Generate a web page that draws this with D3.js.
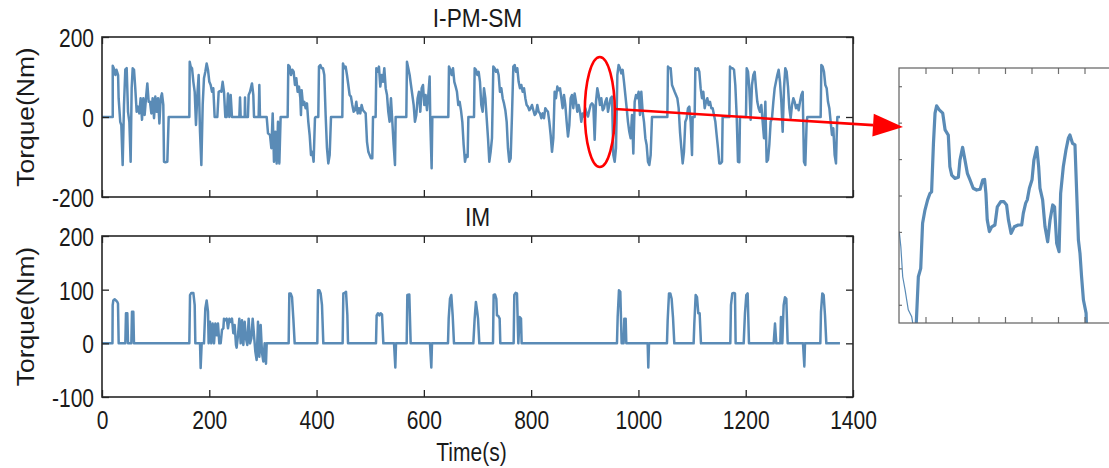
<!DOCTYPE html>
<html>
<head>
<meta charset="utf-8">
<script src="https://cdn.jsdelivr.net/npm/d3@7"></script>
<style>
  body { margin: 0; background: #ffffff; }
  svg text { font-family: "Liberation Sans", Arial, Helvetica, sans-serif; fill: #1a1a1a; }
</style>
</head>
<body>
<svg id="chart" width="1109" height="468"></svg>
<script>
// ---- data -------------------------------------------------------------
const timeTicks = [0, 200, 400, 600, 800, 1000, 1200, 1400];
const ipmsmTorqueTicks = [-200, 0, 200];
const imTorqueTicks = [-100, 0, 100, 200];

// I-PM-SM torque over the drive cycle: [time (s), torque (Nm)]
const ipmsmTorque = [
  [0,0],[20,0],[20,128],[22,122],[25,105],[27,118],[30,105],[31,47],[34,-12],[36,-20],[38.5,-120],[41,30],[43.5,119],[46,122],[48.5,13],[51,-12],[53.4,-112],[55.3,72],[57.2,122],[59.7,118],[62,72],[64.6,13],[67,26],[69.6,9],[72,47],[74.6,-7],[77,47],[79.5,5],[82,47],[84.5,84],[87,38],[89.5,38],[92,9],[94.4,47],[97,-3],[99.4,51],[102,13],[104.4,47],[107,-16],[109.4,47],[111.8,59],[114.3,30],[115.6,-112],[118,-113],[121.8,-112],[124.3,0],
  [162.8,0],[163.5,138],[165.3,126],[167.8,122],[170.3,88],[172.8,63],[175.2,-20],[177.7,55],[180.2,105],[182.7,-37],[185.2,-120],[187.7,30],[190.1,97],[192.6,113],[195.1,134],[197.6,118],[200.1,88],[202.6,80],[205.1,63],[207.5,72],[210,0],[215,0],[217.5,63],[220,65],[222.5,63],[224.9,88],[227.4,63],[229.9,0],[232.4,0],[234.9,59],[237.4,0],[239.9,55],[242.3,0],[256,0],[257.3,49],[258.5,0],[266,0],[266.6,49],[267.2,0],[272,0],[273.4,55],[275.9,63],[279.6,84],[282.1,55],[283.4,0],[292,0],[293.3,80],[294.5,0],[307,0],[309.5,-41],[313.2,-45],[315.7,-78],[318.2,9],[320.6,-112],[323.1,-37],[325.6,-116],[328.1,-12],[330.6,-116],[333,0],
  [346.1,0],[347.3,130],[349.8,126],[352.3,105],[354.8,118],[357.3,113],[359.7,80],[362.2,97],[364.7,63],[367.2,76],[369.7,47],[370.9,5],[372.2,67],[374.7,30],[377.1,38],[379.6,22],[382.1,34],[384.6,-12],[387.1,-45],[389.6,-95],[392.1,-87],[394.5,-112],[397,-3],[398.3,0],[403.2,0],[404.5,126],[407,130],[409.5,122],[412,122],[414.4,105],[416.9,5],[419.4,-78],[421.9,-116],[424.4,-95],[426.9,0],
  [448,0],[449.2,134],[451.7,122],[454.2,126],[456.7,105],[459.2,80],[461.6,55],[464.1,51],[466.6,30],[469.1,13],[471.6,17],[474.1,38],[476.6,9],[479,22],[481.5,9],[484,30],[486.5,17],[489,13],[491.5,9],[494,-62],[496.5,-87],[498.9,-95],[501.4,-103],[503.9,-103],[505.2,0],[510.1,0],[511.4,122],[513.9,113],[516.3,126],[518.8,76],[521.3,105],[523.8,88],[526.3,122],[528.8,72],[531.3,55],[533.7,13],[536.2,-12],[538.7,47],[541.2,-12],[543.7,-70],[546.2,-120],[547.4,0],
  [567.3,0],[568.5,138],[571,122],[573.5,105],[576,80],[578.5,55],[581,30],[583.4,-12],[585.9,5],[588.4,47],[590.9,63],[593.4,13],[595.9,72],[598.4,80],[600.8,30],[603.3,55],[605.8,17],[608.3,55],[610.8,101],[612,-12],[614.5,-128],[615.8,0],
  [645.6,0],[646.8,126],[649.3,118],[651.8,105],[654.3,122],[656.8,88],[659.3,76],[661.7,63],[664.2,30],[666.7,38],[669.2,17],[671.7,-12],[674.2,-70],[676.7,-112],[679.1,-95],[681.6,-100],[683,0],
  [693.5,0],[694.7,122],[697.2,118],[699.7,105],[702.2,113],[704.6,88],[707.1,30],[709.6,13],[712.1,72],[714.6,47],[717.1,-3],[719.6,-53],[722,-112],[724.5,-87],[727,-53],[729.5,126],[732,122],[734.5,113],[737,118],[739.4,105],[741.9,63],[744.4,72],[746.9,47],[749.4,34],[751.9,17],[754.4,-12],[756.8,-78],[759.3,-112],[761.8,-103],[764.3,5],[766.8,126],[769.3,130],[771.8,113],[774.2,122],[776.7,88],[779.2,72],[781.7,80],[784.2,63],[786.7,72],[789.2,47],[791.6,30],[794.1,26],[796.6,17],[799.1,22],[801.6,30],[804.1,17],[806.6,5],[809,9],[811.5,30],[814,13],[816.5,9],[819,-3],[821.5,9],[824,-3],[826.4,22],[828.9,17],[831.4,13],[833.9,-12],[836.4,-45],[838.9,-87],[841.4,-53],[843.8,63],[846.3,47],[848.8,76],[851.3,67],[853.8,72],[856.3,47],[858.7,22],[861.2,55],[863.7,30],[866.2,-12],[868.7,-49],[871.2,-20],[873.7,47],[876.1,55],[878.6,22],[881.1,59],[883.6,38],[886.1,13],[888.6,30],[891.1,13],[893.5,-12],[896,9],[898.5,1],[901,22],[903.5,9],[906,1],[908.5,17],[910.9,30],[913.4,34],[915.9,30],[918.4,-57],[920.9,38],[923.4,72],[925.9,55],[928.3,30],[930.8,47],[933.3,17],[935.8,22],[938.3,38],[940.8,47],[943.3,13],[945.7,30],[948.2,47],[950.7,51],[953.2,-95],[955.7,-112],[958.2,-78],[960.7,105],[963.1,130],[965.6,122],[968.1,109],[970.6,118],[973.1,88],[975.6,55],[978.1,22],[980.5,-12],[983,-37],[985.5,-53],[988,5],[990.5,-91],[993,38],[995.5,55],[997.9,47],[1000.4,63],[1002.9,5],[1005.4,63],[1007.9,13],[1010.4,-12],[1012.9,-53],[1015.3,-70],[1017.8,-112],[1020.3,-120],[1022.8,-95],[1025.3,0],
  [1053.9,0],[1055.1,126],[1057.6,122],[1060.1,122],[1062.6,80],[1065,72],[1067.5,63],[1070,55],[1072.5,47],[1075,22],[1077.5,-37],[1080,-78],[1082.5,-116],[1084.9,-87],[1087.4,-12],[1089.9,-3],[1092.4,22],[1094.9,26],[1097.4,-12],[1099.9,-95],[1101.1,0],[1104.8,0],[1106.1,122],[1108.6,118],[1111,122],[1113.5,113],[1116,72],[1118.5,47],[1121,63],[1123.5,22],[1126,38],[1128.4,47],[1130.9,30],[1133.4,38],[1135.9,22],[1138.4,22],[1140.9,5],[1143.4,-12],[1145.8,-45],[1148.3,-78],[1150.8,-116],[1153.3,-116],[1155.8,-112],[1157,0],
  [1169.5,0],[1170.7,126],[1173.2,122],[1175.7,122],[1178.2,118],[1180.6,80],[1183.1,5],[1185.6,-112],[1188.1,-113],[1189.3,0],[1200.5,0],[1201.8,122],[1204.3,113],[1206.7,72],[1209.2,-7],[1211.7,80],[1214.2,105],[1216.7,113],[1219.2,72],[1221.6,38],[1224.1,22],[1226.6,13],[1229.1,30],[1231.6,-12],[1234.1,-53],[1236.6,38],[1239,-112],[1241.5,-107],[1244,-70],[1246.5,-12],[1249,-3],[1251.5,38],[1254,72],[1256.4,88],[1258.9,105],[1261.4,118],[1263.9,88],[1266.4,38],[1268.9,-37],[1271.4,72],[1273.8,122],[1276.3,113],[1278.8,76],[1281.3,22],[1283.8,-3],[1286.3,30],[1288.8,47],[1291.2,38],[1293.7,22],[1296.2,30],[1298.7,17],[1301.2,38],[1303.7,55],[1306.2,63],[1308.6,-112],[1311.1,-120],[1313.6,-12],[1314.9,0],
  [1339.7,0],[1341,130],[1343.4,126],[1345.9,113],[1348.4,80],[1350.9,72],[1353.4,38],[1355.9,22],[1358.4,-12],[1360.8,-45],[1363.3,-28],[1365.8,-95],[1368.3,-116],[1369.5,-53],[1370.8,0],[1375.8,0]
];

// IM torque over the same cycle: [time (s), torque (Nm)]
const imTorque = [
  [0,0],[19.5,0],[19.9,71],[21.1,80],[23.6,82],[26.1,80],[28.6,77],[29.8,74],[31.1,0],[43.5,0],[44.7,56],[47.2,56],[48.5,0],[54.7,0],[55.9,59],[58.4,59],[59.6,0],
  [162.8,0],[164.1,90],[166.5,94],[170.3,94],[172.8,71],[174,0],[182.7,0],[183.9,-46],[185.8,0],[190.1,0],[192.6,65],[195.1,80],[197.6,59],[198.8,0],[201.3,40],[203.8,0],[206.3,37],[208.8,0],[211.3,37],[213.8,15],[216.2,37],[218.7,0],[221.2,0],[223.7,25],[226.2,28],[227.4,46],[229.9,43],[232.4,46],[234.9,28],[237.4,46],[239.9,40],[242.3,46],[244.8,19],[247.3,34],[249.8,-3],[251,-8],[253.5,15],[256,46],[258.5,0],[261,43],[263.5,-3],[266,40],[268.4,9],[270.9,-3],[273.4,46],[275.9,0],[278.4,9],[280.9,46],[283.4,15],[285.8,-15],[288.3,-31],[290.8,40],[293.3,-25],[295.8,34],[298.3,-18],[300.8,-34],[303.2,0],[305.7,-38],[307,0],
  [348,0],[349.2,93],[351.7,93],[354.2,86],[356.7,46],[359.2,0],[401.4,0],[402.7,99],[405.2,99],[407.6,93],[410.1,71],[412.6,0],[448.6,0],[449.9,93],[452.4,94],[454.9,96],[457.4,52],[458.6,0],
  [510.8,0],[512,52],[514.5,56],[517,52],[519.5,56],[522,54],[524.5,0],[544.4,0],[546.8,-45],[548.1,0],[568,0],[569.2,90],[572.9,91],[575.4,0],[611.4,0],[613.9,-45],[615.2,0],
  [645,0],[646.3,46],[648.7,83],[651.2,90],[653.7,52],[656.2,0],[692.2,0],[694.7,46],[697,77],[699.5,59],[701,46],[703.4,0],[728.9,0],[730.1,90],[732.6,91],[735.1,83],[736.3,52],[738.8,51],[741.3,46],[742.5,0],[767.4,0],[768.6,90],[771.1,94],[773.6,93],[776.1,0],[778.6,49],[781.1,46],[782.3,0],
  [960,0],[961.3,49],[963.7,99],[966.2,96],[968.7,0],[972.4,0],[973.7,46],[976.2,46],[977.4,0],[1017.2,0],[1018.4,-45],[1019.7,0],
  [1053.2,0],[1054.5,43],[1057,93],[1059.4,93],[1061.9,83],[1064.4,49],[1066.9,0],[1102.9,0],[1104.2,37],[1106.7,90],[1109.2,86],[1111.6,56],[1114.1,56],[1116.6,0],
  [1171.3,0],[1172.5,71],[1175,93],[1177.5,94],[1180,93],[1181.2,0],[1196.2,0],[1198.6,56],[1201.1,90],[1203.6,93],[1206.1,0],[1252.1,0],[1254.6,37],[1257,0],[1264.5,0],[1265.7,49],[1268.2,0],[1270.7,71],[1273.2,86],[1275.7,83],[1278.2,0],
  [1306.8,0],[1309.3,-43],[1310.5,0],[1339.1,0],[1340.3,58],[1342.8,93],[1345.3,90],[1347.8,52],[1350.3,0],[1375.7,0]
];

// Close-up of the highlighted I-PM-SM segment: [time (s), torque (Nm)]
const zoomLeadIn = [
  [926.01,30.1],[926.07,25.9],[926.14,17.7],[926.23,14.1],[926.35,8.6],[926.48,6.7],[926.54,4]
];
const zoomTorque = [
  [926.64,3],[926.73,17.7],[926.82,20.0],[926.89,32.4],[926.98,36.0],[927.08,38.8],[927.17,40.6],[927.23,41.0],[927.30,54.3],[927.36,62.6],[927.42,64.6],[927.52,63.5],[927.65,62.6],[927.74,58.0],[927.86,56.6],[927.92,47.9],[927.99,45.6],[928.11,44.7],[928.24,45.0],[928.30,49.7],[928.40,53.2],[928.49,49.7],[928.58,46.1],[928.68,44.3],[928.80,42.0],[928.93,41.5],[929.06,41.7],[929.16,44.3],[929.23,44.4],[929.28,40.6],[929.33,33.3],[929.41,30.1],[929.50,31.4],[929.62,31.9],[929.71,36.9],[929.84,38.3],[929.96,38.3],[930.06,37.4],[930.13,33.3],[930.23,29.6],[930.35,31.4],[930.50,31.9],[930.63,31.9],[930.69,35.1],[930.78,37.9],[930.84,38.8],[930.92,42.0],[931.02,44.3],[931.09,49.7],[931.20,53.2],[931.27,47.9],[931.32,42.0],[931.42,38.8],[931.51,31.4],[931.61,27.3],[931.70,33.3],[931.80,37.4],[931.87,36.9],[931.95,26.9],[932.04,24.6],[932.10,40.6],[932.20,47.9],[932.30,52.5],[932.39,55.7],[932.45,56.6],[932.55,54.3],[932.64,53.9],[932.77,27.8],[932.83,24.1],[932.89,17.7],[932.96,11.3],[933.06,7.7],[933.08,3]
];
const zoomTimeTicks = [927, 928, 929, 930, 931, 932, 933];
const zoomTorqueTicks = [10, 20, 30, 40, 50, 60, 70];

// ---- layout -----------------------------------------------------------
const svg = d3.select("#chart");
const lineColor = "#5a8bb6";
const axisColor = "#262626";
const plotLeft = 102, plotRight = 853;
const textStretch = 1.25;           // glyphs are drawn taller than wide
const plainNumber = d => String(d); // ASCII hyphen for negatives

const x = d3.scaleLinear().domain([0, 1400]).range([plotLeft, plotRight]);

// Moves a text's x/y into a transform so the vertical stretch keeps its anchor.
function stretch(sel, sy) {
  sel.each(function () {
    const t = d3.select(this);
    const tx = +t.attr("x") || 0, ty = +t.attr("y") || 0;
    t.attr("x", 0).attr("y", 0)
     .attr("transform", `translate(${tx},${ty}) scale(1,${sy})`);
  });
}

const panels = [
  { title: "I-PM-SM", data: ipmsmTorque, top: 37, bottom: 197, domain: [-200, 200], ticks: ipmsmTorqueTicks, labels: false },
  { title: "IM", data: imTorque, top: 236, bottom: 397, domain: [-100, 200], ticks: imTorqueTicks, labels: true }
];

const defs = svg.append("defs");

panels.forEach((p, i) => {
  const y = d3.scaleLinear().domain(p.domain).range([p.bottom, p.top]);
  p.y = y;
  const g = svg.append("g");

  defs.append("clipPath").attr("id", "clip" + i)
    .append("rect").attr("x", plotLeft).attr("y", p.top)
    .attr("width", plotRight - plotLeft).attr("height", p.bottom - p.top);

  // torque trace
  g.append("path")
    .datum(p.data)
    .attr("clip-path", `url(#clip${i})`)
    .attr("fill", "none")
    .attr("stroke", lineColor)
    .attr("stroke-width", 2.5)
    .attr("stroke-linejoin", "round")
    .attr("d", d3.line().x(d => x(d[0])).y(d => y(d[1])));

  // axes with inward ticks on all four sides
  const ax = (axis, tx, ty) => {
    const a = g.append("g").attr("transform", `translate(${tx},${ty})`).call(axis);
    a.select(".domain").remove();
    a.selectAll(".tick line").attr("stroke", axisColor).attr("stroke-width", 1.3);
    a.selectAll(".tick text").attr("fill", "#1a1a1a").style("font-size", "21px")
      .style("font-family", '"Liberation Sans", Arial, sans-serif');
    return a;
  };
  const left = ax(d3.axisLeft(y).tickValues(p.ticks).tickSizeInner(-7).tickSizeOuter(0).tickPadding(8).tickFormat(plainNumber), plotLeft, 0);
  left.selectAll(".tick text").attr("dy", "0.36em");
  stretch(left.selectAll(".tick text"), textStretch);
  ax(d3.axisRight(y).tickValues(p.ticks).tickSizeInner(-7).tickSizeOuter(0).tickFormat(""), plotRight, 0);
  ax(d3.axisTop(x).tickValues(timeTicks).tickSizeInner(-7).tickSizeOuter(0).tickFormat(""), 0, p.top);
  const bottom = ax(d3.axisBottom(x).tickValues(timeTicks).tickSizeInner(-7).tickSizeOuter(0).tickPadding(13)
      .tickFormat(p.labels ? plainNumber : ""), 0, p.bottom);
  stretch(bottom.selectAll(".tick text"), textStretch);

  // frame
  g.append("rect")
    .attr("x", plotLeft).attr("y", p.top)
    .attr("width", plotRight - plotLeft).attr("height", p.bottom - p.top)
    .attr("fill", "none").attr("stroke", axisColor).attr("stroke-width", 1.6);

  // title and y label
  g.append("text")
    .attr("transform", `translate(${(plotLeft + plotRight) / 2},${p.top - 10}) scale(1.08,${textStretch})`)
    .attr("text-anchor", "middle").style("font-size", "21px").text(p.title);
  g.append("text")
    .attr("transform", `translate(34,${(p.top + p.bottom) / 2}) rotate(-90) scale(1.2,1.1)`)
    .attr("text-anchor", "middle").style("font-size", "22px").text("Torque(Nm)");
});

svg.append("text")
  .attr("transform", `translate(${(plotLeft + plotRight) / 2 - 6},461) scale(1,${textStretch})`)
  .attr("text-anchor", "middle").style("font-size", "21px").text("Time(s)");

// ---- close-up inset -----------------------------------------------------
const inset = { left: 899, right: 1111, top: 68, bottom: 323 };
const zx = d3.scaleLinear().domain([926, 934]).range([inset.left, inset.right]);
const zy = d3.scaleLinear().domain([5, 75]).range([inset.bottom, inset.top]);

defs.append("clipPath").attr("id", "clipInset")
  .append("rect").attr("x", inset.left).attr("y", inset.top)
  .attr("width", inset.right - inset.left).attr("height", inset.bottom - inset.top);

const ig = svg.append("g");
const zoomLine = d3.line().x(d => zx(d[0])).y(d => zy(d[1]));
ig.append("path").datum(zoomLeadIn).attr("clip-path", "url(#clipInset)")
  .attr("fill", "none").attr("stroke", lineColor).attr("stroke-width", 1.2).attr("d", zoomLine);
ig.append("path").datum(zoomTorque).attr("clip-path", "url(#clipInset)")
  .attr("fill", "none").attr("stroke", lineColor).attr("stroke-width", 3.2)
  .attr("stroke-linejoin", "round").attr("d", zoomLine);

const insetAxis = (axis, tx, ty) => {
  const a = ig.append("g").attr("transform", `translate(${tx},${ty})`).call(axis);
  a.select(".domain").remove();
  a.selectAll(".tick line").attr("stroke", "#707070").attr("stroke-width", 1.2);
};
insetAxis(d3.axisTop(zx).tickValues(zoomTimeTicks).tickSizeInner(-6).tickSizeOuter(0).tickFormat(""), 0, inset.top);
insetAxis(d3.axisBottom(zx).tickValues(zoomTimeTicks).tickSizeInner(-6).tickSizeOuter(0).tickFormat(""), 0, inset.bottom);
insetAxis(d3.axisLeft(zy).tickValues(zoomTorqueTicks).tickSizeInner(-3).tickSizeOuter(0).tickFormat(""), inset.left, 0);
ig.append("rect")
  .attr("x", inset.left).attr("y", inset.top)
  .attr("width", inset.right - inset.left).attr("height", inset.bottom - inset.top)
  .attr("fill", "none").attr("stroke", "#606060").attr("stroke-width", 1.2);

// ---- highlight ellipse and arrow -----------------------------------------
const topY = panels[0].y;
const markT = 928, markHalfWidth = 28, markLow = -125, markHigh = 150;
const cx = x(markT), cy = (topY(markLow) + topY(markHigh)) / 2;
svg.append("ellipse")
  .attr("cx", cx).attr("cy", cy)
  .attr("rx", x(markT + markHalfWidth) - x(markT))
  .attr("ry", (topY(markLow) - topY(markHigh)) / 2)
  .attr("fill", "none").attr("stroke", "#ff0000").attr("stroke-width", 2.6);

const arrowStart = [x(markT + markHalfWidth), topY(20)];
const arrowTip = [inset.left + 4, 127];
const ang = Math.atan2(arrowTip[1] - arrowStart[1], arrowTip[0] - arrowStart[0]);
const headLen = 30, headHalf = 11.5;
const base = [arrowTip[0] - headLen * Math.cos(ang), arrowTip[1] - headLen * Math.sin(ang)];
svg.append("line")
  .attr("x1", arrowStart[0]).attr("y1", arrowStart[1])
  .attr("x2", base[0]).attr("y2", base[1])
  .attr("stroke", "#ff0000").attr("stroke-width", 2.6);
svg.append("polygon")
  .attr("points", [
    arrowTip,
    [base[0] - headHalf * Math.sin(ang), base[1] + headHalf * Math.cos(ang)],
    [base[0] + headHalf * Math.sin(ang), base[1] - headHalf * Math.cos(ang)]
  ].map(p => p.join(",")).join(" "))
  .attr("fill", "#ff0000");
</script>
</body>
</html>
